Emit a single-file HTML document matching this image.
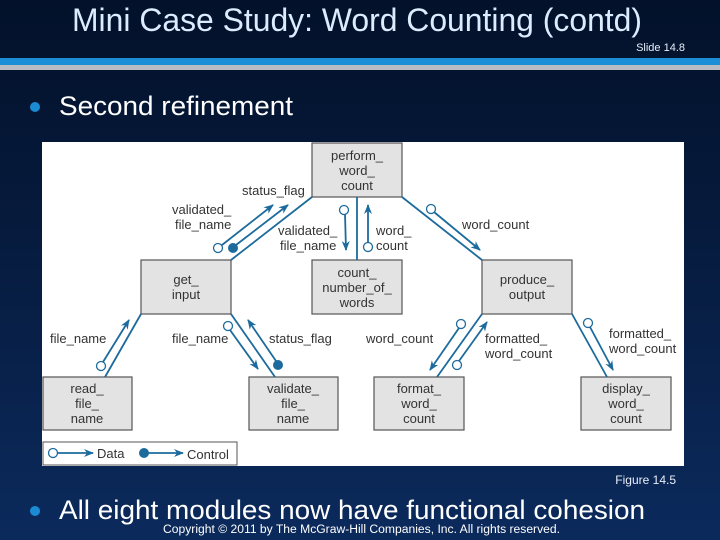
<!DOCTYPE html>
<html><head><meta charset="utf-8"><style>
html,body{margin:0;padding:0}
body{width:720px;height:540px;overflow:hidden;background:linear-gradient(180deg,#03112a 0%,#061a3c 40%,#0b2a5c 100%);font-family:"Liberation Sans",sans-serif;}
svg{display:block}
</style></head><body>
<svg width="720" height="540" viewBox="0 0 720 540" xmlns="http://www.w3.org/2000/svg">
<defs>
<marker id="ah" markerWidth="10" markerHeight="8" refX="9" refY="4" orient="auto" markerUnits="userSpaceOnUse">
<path d="M0,0 L10,4 L0,8 L3,4 Z" fill="#1d6b9c"/></marker>
</defs>
<text x="72" y="31" font-size="32" fill="#dcecff" textLength="570" lengthAdjust="spacingAndGlyphs">Mini Case Study: Word Counting (contd)</text>
<text x="685" y="51" text-anchor="end" font-size="11" fill="#e8eef8">Slide 14.8</text>
<rect x="0" y="58" width="720" height="7" fill="#1a8fd6"/>
<rect x="0" y="65" width="720" height="5" fill="#b9bcc2"/>
<circle cx="35" cy="107" r="5" fill="#1b8bd4"/>
<text x="59" y="115" font-size="27" fill="#ffffff" textLength="234" lengthAdjust="spacingAndGlyphs">Second refinement</text>

<rect x="42" y="142" width="642" height="324" fill="#ffffff"/>
<g fill="#e3e3e3" stroke="#555" stroke-width="1.2">
<rect x="312" y="143" width="90" height="54"/>
<rect x="141" y="260" width="90" height="54"/>
<rect x="312" y="260" width="90" height="54"/>
<rect x="482" y="260" width="90" height="54"/>
<rect x="43" y="377" width="89" height="53"/>
<rect x="249" y="377" width="89" height="53"/>
<rect x="374" y="377" width="90" height="53"/>
<rect x="581" y="377" width="90" height="53"/>
</g>
<rect x="43" y="442" width="194" height="23" fill="#fff" stroke="#555" stroke-width="1"/>
<g stroke="#1d6b9c" stroke-width="1.8" fill="none">
<line x1="312" y1="197" x2="231" y2="260"/>
<line x1="357" y1="197" x2="357" y2="260"/>
<line x1="402" y1="197" x2="482" y2="260"/>
<line x1="141" y1="314" x2="105" y2="377"/>
<line x1="231" y1="314" x2="275" y2="377"/>
<line x1="482" y1="314" x2="437" y2="377"/>
<line x1="572" y1="314" x2="607" y2="377"/>
<g marker-end="url(#ah)">
<line x1="222" y1="245" x2="273" y2="205"/>
<line x1="236" y1="245" x2="288" y2="205"/>
<line x1="345" y1="214" x2="346" y2="250"/>
<line x1="368" y1="243" x2="368" y2="205"/>
<line x1="434" y1="212" x2="480" y2="250"/>
<line x1="103" y1="362" x2="129" y2="320"/>
<line x1="230" y1="330" x2="258" y2="369"/>
<line x1="276" y1="361" x2="248" y2="320"/>
<line x1="459" y1="328" x2="430" y2="370"/>
<line x1="459" y1="361" x2="487" y2="322"/>
<line x1="590" y1="327" x2="613" y2="370"/>
<line x1="57" y1="453" x2="93" y2="453"/>
<line x1="148" y1="453" x2="183" y2="453"/>
</g>
</g>
<g stroke="#1d6b9c" stroke-width="1.3" fill="#fff">
<circle cx="218" cy="248" r="4.5"/>
<circle cx="344" cy="210" r="4.5"/>
<circle cx="368" cy="247" r="4.5"/>
<circle cx="431" cy="209" r="4.5"/>
<circle cx="101" cy="366" r="4.5"/>
<circle cx="228" cy="326" r="4.5"/>
<circle cx="461" cy="324" r="4.5"/>
<circle cx="457" cy="365" r="4.5"/>
<circle cx="588" cy="323" r="4.5"/>
<circle cx="53" cy="453" r="4.5"/>
</g>
<g fill="#1d6b9c">
<circle cx="233" cy="248" r="5"/>
<circle cx="278" cy="365" r="5"/>
<circle cx="144" cy="453" r="5"/>
</g>
<g font-size="13" fill="#333" text-anchor="middle">
<text x="357" y="160">perform_</text><text x="357" y="175">word_</text><text x="357" y="190">count</text>
<text x="186" y="284">get_</text><text x="186" y="299">input</text>
<text x="357" y="277">count_</text><text x="357" y="292">number_of_</text><text x="357" y="307">words</text>
<text x="527" y="284">produce_</text><text x="527" y="299">output</text>
<text x="87" y="393">read_</text><text x="87" y="408">file_</text><text x="87" y="423">name</text>
<text x="293" y="393">validate_</text><text x="293" y="408">file_</text><text x="293" y="423">name</text>
<text x="419" y="393">format_</text><text x="419" y="408">word_</text><text x="419" y="423">count</text>
<text x="626" y="393">display_</text><text x="626" y="408">word_</text><text x="626" y="423">count</text>
</g>
<g font-size="13" fill="#333">
<text x="242" y="195">status_flag</text>
<text x="172" y="214">validated_</text><text x="175" y="229">file_name</text>
<text x="278" y="235">validated_</text><text x="280" y="250">file_name</text>
<text x="376" y="235">word_</text><text x="376" y="250">count</text>
<text x="462" y="229">word_count</text>
<text x="50" y="343">file_name</text>
<text x="172" y="343">file_name</text>
<text x="269" y="343">status_flag</text>
<text x="366" y="343">word_count</text>
<text x="485" y="343">formatted_</text><text x="485" y="358">word_count</text>
<text x="609" y="338">formatted_</text><text x="609" y="353">word_count</text>
<text x="97" y="458">Data</text>
<text x="187" y="459">Control</text>
</g>

<text x="676" y="484" text-anchor="end" font-size="12" fill="#e8eef8">Figure 14.5</text>
<circle cx="35" cy="511" r="5" fill="#1b8bd4"/>
<text x="59" y="519" font-size="27" fill="#ffffff" textLength="586" lengthAdjust="spacingAndGlyphs">All eight modules now have functional cohesion</text>
<text x="163" y="533" font-size="11.5" fill="#ffffff" textLength="397" lengthAdjust="spacingAndGlyphs">Copyright © 2011 by The McGraw-Hill Companies, Inc.  All rights reserved.</text>
</svg>
</body></html>
